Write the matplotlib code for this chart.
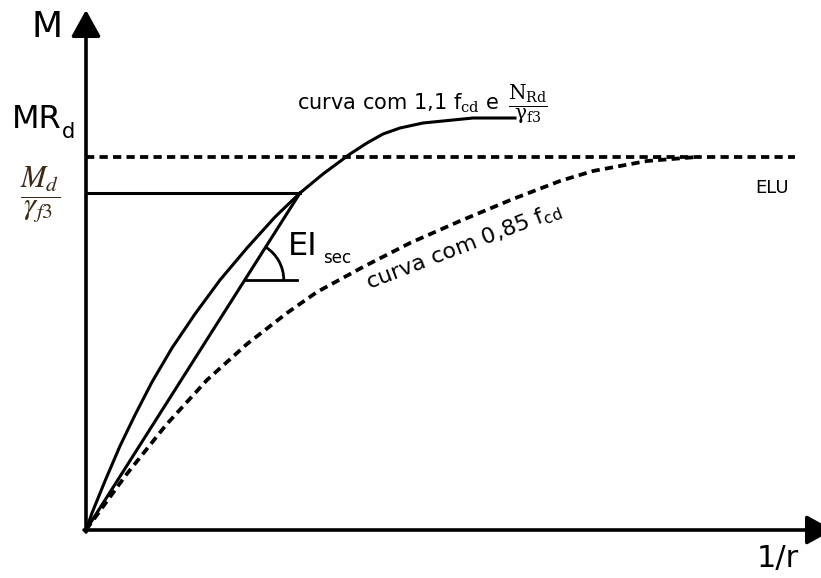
import numpy as np
import matplotlib
matplotlib.use('Agg')
import matplotlib.pyplot as plt
from matplotlib.patches import Arc

# curva M x 1/r com 1,1 fcd (linha cheia)
curva_sup_x = [0, 0.06, 0.19, 0.34, 0.49, 0.66, 0.86, 1.09, 1.34, 1.61, 1.89, 2.14,
               2.37, 2.64, 2.81, 2.97, 3.14, 3.37, 3.87, 4.29]
curva_sup_y = [0, 0.17, 0.49, 0.84, 1.15, 1.48, 1.82, 2.16, 2.50, 2.82, 3.13, 3.37,
               3.56, 3.76, 3.87, 3.96, 4.02, 4.07, 4.12, 4.12]

# curva com 0,85 fcd (tracejada)
curva_inf_x = [0, 0.40, 0.80, 1.21, 1.61, 2.01, 2.31, 2.77, 3.24, 3.74, 4.27, 4.74,
               5.07, 5.61, 6.11]
curva_inf_y = [0, 0.55, 1.05, 1.50, 1.86, 2.17, 2.38, 2.63, 2.87, 3.09, 3.31, 3.49,
               3.59, 3.69, 3.73]

# niveis de momento
M_elu = 3.73
M_d = 3.37
x_elu_fim = 7.09
# ponto da secante
x_sec, y_sec = 2.14, 3.37

fig = plt.figure(figsize=(8.21, 5.78), dpi=100)
ax = fig.add_axes([0, 0, 1, 1])
ax.set_xlim(-0.86, 7.35)
ax.set_ylim(-0.48, 5.30)
ax.axis('off')

# eixos com seta
seta = dict(arrowstyle='-|>,head_length=0.9,head_width=0.5', lw=2.6, color='k',
            mutation_scale=18, shrinkA=0, shrinkB=0)
ax.annotate('', xy=(0, 5.20), xytext=(0, -0.02), arrowprops=seta, annotation_clip=False)
ax.annotate('', xy=(7.47, 0), xytext=(-0.02, 0), arrowprops=seta, annotation_clip=False)

tracejado = (0, (2.2, 1.4))
ax.plot(curva_sup_x, curva_sup_y, color='k', lw=2.2, solid_joinstyle='round')
ax.plot(curva_inf_x, curva_inf_y, color='k', lw=2.7, linestyle=tracejado)
ax.plot([0, x_elu_fim], [M_elu, M_elu], color='k', lw=2.7, linestyle=tracejado)
ax.plot([0, x_sec], [M_d, M_d], color='k', lw=2.2)
ax.plot([0, x_sec], [0, y_sec], color='k', lw=2.2)

# angulo da rigidez secante
y_ang = 2.50
x_ang = x_sec * y_ang / y_sec
ax.plot([x_ang, x_ang + 0.52], [y_ang, y_ang], color='k', lw=2.0)
ang = np.degrees(np.arctan2(y_sec, x_sec))
ax.add_patch(Arc((x_ang, y_ang), 0.78, 0.78, theta1=0, theta2=ang, color='k', lw=2.0))

# textos
ax.text(-0.39, 5.03, 'M', fontsize=26, ha='center', va='center')
ax.text(-0.74, 4.02, 'MR', fontsize=23, ha='left', va='baseline')
ax.text(-0.24, 3.92, 'd', fontsize=15, ha='left', va='baseline')
ax.text(-0.46, 3.35, r'$\dfrac{M_d}{\gamma_{f3}}$', fontsize=22, ha='center', va='center',
        color='#3c2a14', math_fontfamily='stix')
ax.text(2.11, 4.20, r'curva com 1,1 f$_{\mathrm{cd}}$ e', fontsize=15, ha='left',
        va='baseline', math_fontfamily='dejavuserif')
ax.text(4.42, 4.26, r'$\dfrac{\mathrm{N_{Rd}}}{\mathrm{\gamma_{f3}}}$', fontsize=14.5,
        ha='center', va='center', math_fontfamily='dejavuserif')
ax.text(2.02, 2.75, 'EI', fontsize=23, ha='left', va='baseline')
ax.text(2.37, 2.67, 'sec', fontsize=12, ha='left', va='baseline')
ax.text(2.83, 2.40, r'curva com 0,85 f$_{\mathsf{cd}}$', fontsize=16, rotation=21,
        rotation_mode='anchor', ha='left', va='baseline', math_fontfamily='dejavusans')
ax.text(6.69, 3.37, 'ELU', fontsize=13, ha='left', va='baseline')
ax.text(6.92, -0.28, '1/r', fontsize=22, ha='center', va='center')

plt.savefig('out.png', dpi=100)
